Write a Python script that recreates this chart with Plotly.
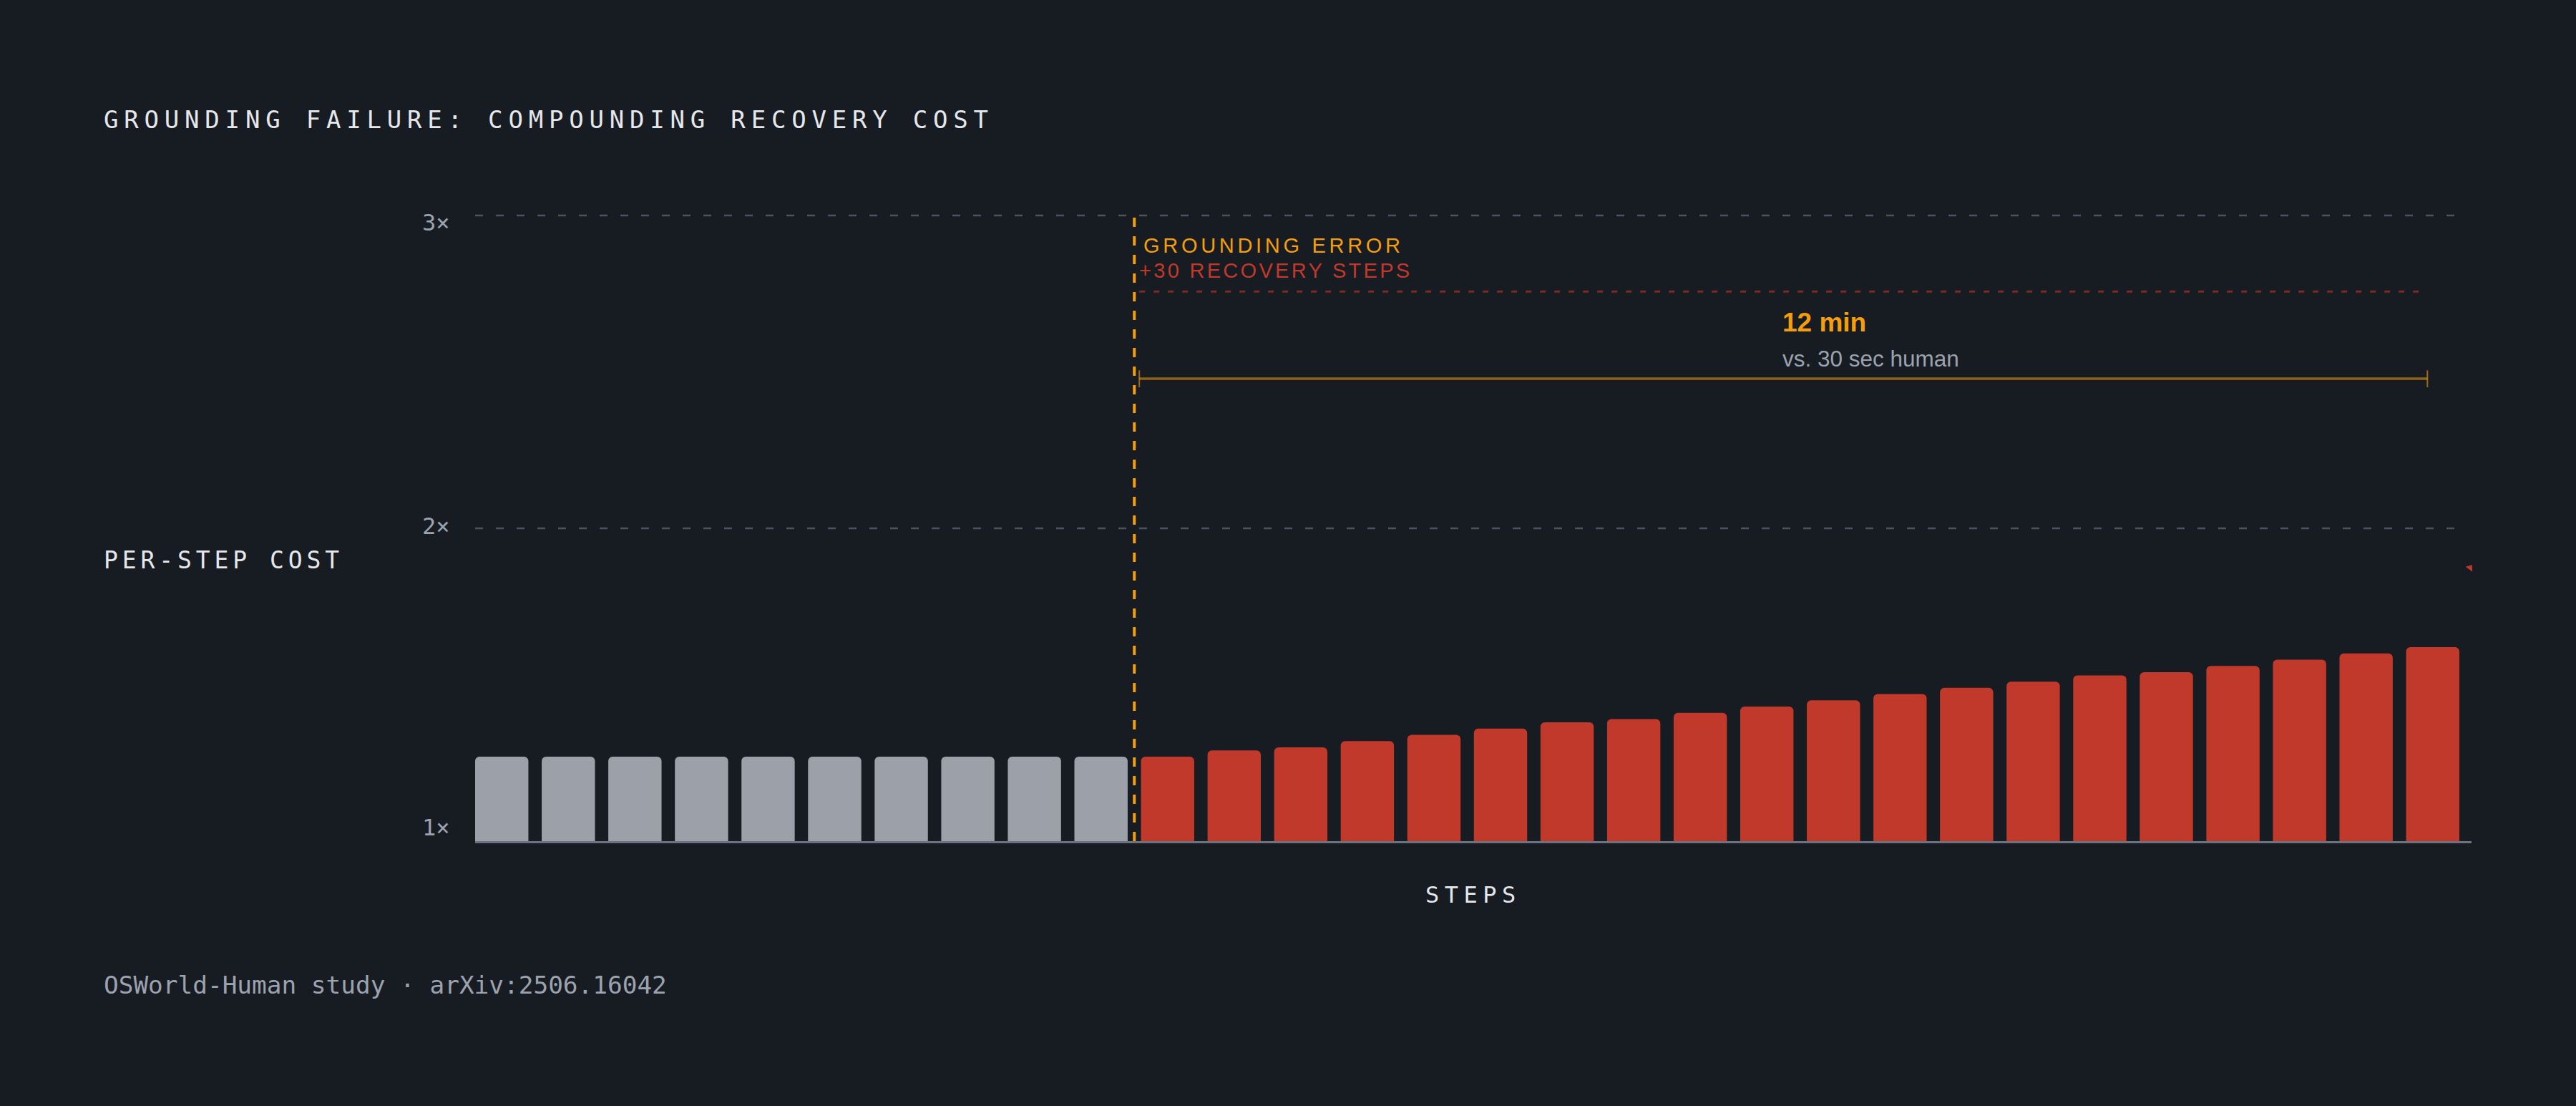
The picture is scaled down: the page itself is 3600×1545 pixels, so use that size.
import plotly.graph_objects as go

# --- data ---
normal_steps = [0, 1, 2, 3, 4, 5, 6, 7, 8, 9]
normal_cost = [1.27, 1.27, 1.27, 1.27, 1.27, 1.27, 1.27, 1.27, 1.27, 1.27]

recovery_steps = [10, 11, 12, 13, 14, 15, 16, 17, 18, 19,
                  20, 21, 22, 23, 24, 25, 26, 27, 28, 29]
recovery_cost = [1.27, 1.29, 1.30, 1.32, 1.34, 1.36, 1.38, 1.39, 1.41, 1.43,
                 1.45, 1.47, 1.49, 1.51, 1.53, 1.54, 1.56, 1.58, 1.60, 1.62]

tick_values = [1, 2, 3]
tick_labels = ["1×", "2×", "3×"]
tick_label_shift = [19, 3, -10]

error_step = 9.5          # boundary between normal and recovery steps
bracket_start = 9.575
bracket_end = 28.92
recovery_level = 2.757    # dotted red level line
bracket_level = 2.478
marker_x = [29.56]
marker_y = [1.874]

# --- styling ---
BG = "#171b22"
GRAY_BAR = "#9ca0a8"
RED = "#c0392b"
ORANGE = "#f59e0b"
TEXT = "#e5e7eb"
MUTED = "#9ca3af"
GRID = "#4b5260"
MONO = "DejaVu Sans Mono, Liberation Mono, monospace"
SANS = "Liberation Sans, Arial, sans-serif"

W, H = 3600, 1545
ML, MR, MT, MB = 664, 146, 279, 370
PLOT_W = W - ML - MR
PLOT_H = H - MT - MB
X_RANGE = [-0.4, 29.583]


def px_x(px):
    return (px - ML) / PLOT_W


def px_y(py):
    return (H - MB - py) / PLOT_H


def spaced(text, gap):
    return f'<span style="letter-spacing:{gap}px">{text}</span>'


fig = go.Figure()

fig.add_trace(go.Bar(
    x=normal_steps, y=normal_cost, width=0.8,
    marker=dict(color=GRAY_BAR, cornerradius=6, line_width=0),
    hoverinfo="skip"
))
fig.add_trace(go.Bar(
    x=recovery_steps, y=recovery_cost, width=0.8,
    marker=dict(color=RED, cornerradius=6, line_width=0),
    hoverinfo="skip"
))
fig.add_trace(go.Scatter(
    x=marker_x, y=marker_y, mode="markers",
    marker=dict(symbol="triangle-up", size=10, angle=35, color=RED),
    cliponaxis=False, hoverinfo="skip"
))

# grid lines at 2x and 3x, across the bar band only
for v in tick_values[1:]:
    fig.add_shape(type="line", xref="x", yref="y",
                  x0=normal_steps[0] - 0.4, x1=recovery_steps[-1] + 0.4,
                  y0=v, y1=v,
                  line=dict(color=GRID, width=2.5, dash="11px,18px"),
                  layer="below")

# grounding error marker
fig.add_shape(type="line", xref="x", yref="y",
              x0=error_step, x1=error_step, y0=1, y1=3,
              line=dict(color=ORANGE, width=4, dash="13px,13px"))

# recovery level (dotted)
fig.add_shape(type="line", xref="x", yref="y",
              x0=bracket_start, x1=bracket_end,
              y0=recovery_level, y1=recovery_level,
              line=dict(color="rgba(192,57,43,0.6)", width=3, dash="8px,12px"))

# time bracket
fig.add_shape(type="line", xref="x", yref="y",
              x0=bracket_start, x1=bracket_end,
              y0=bracket_level, y1=bracket_level,
              line=dict(color="rgba(245,158,11,0.55)", width=3.5))
for bx in [bracket_start, bracket_end]:
    fig.add_shape(type="line", xref="x", yref="y",
                  x0=bx, x1=bx, y0=bracket_level - 0.027, y1=bracket_level + 0.027,
                  line=dict(color="rgba(245,158,11,0.6)", width=2))

annotations = []

for v, lab, sh in zip(tick_values, tick_labels, tick_label_shift):
    annotations.append(dict(
        xref="paper", yref="y", x=0, y=v, xanchor="right", yanchor="middle",
        xshift=-33, yshift=sh, text=lab, showarrow=False,
        font=dict(family=MONO, size=32, color=MUTED)
    ))

annotations += [
    dict(xref="paper", yref="paper", x=px_x(143), y=px_y(782),
         xanchor="left", yanchor="middle", showarrow=False,
         text=spaced("PER-STEP COST", 5.9),
         font=dict(family=MONO, size=33, color=TEXT)),
    dict(xref="paper", yref="paper", x=0.5, y=px_y(1250),
         xanchor="center", yanchor="middle", showarrow=False,
         text=spaced("STEPS", 7.5),
         font=dict(family=MONO, size=32, color=TEXT)),
    dict(xref="paper", yref="paper", x=px_x(143), y=px_y(1376),
         xanchor="left", yanchor="middle", showarrow=False,
         text="OSWorld-Human study · arXiv:2506.16042",
         font=dict(family=MONO, size=34.4, color=MUTED)),
    dict(xref="x", yref="y", x=error_step, y=2.904, xshift=11,
         xanchor="left", yanchor="middle", showarrow=False,
         text=spaced("GROUNDING ERROR", 4.7),
         font=dict(family=SANS, size=29, color=ORANGE)),
    dict(xref="x", yref="y", x=error_step, y=2.824, xshift=5,
         xanchor="left", yanchor="middle", showarrow=False,
         text=spaced("+30 RECOVERY STEPS", 3.3),
         font=dict(family=SANS, size=29, color=RED)),
    dict(xref="x", yref="y", x=(error_step + bracket_end) / 2, y=2.657,
         xanchor="left", yanchor="middle", showarrow=False,
         text="<b>12 min</b>",
         font=dict(family=SANS, size=37, color=ORANGE)),
    dict(xref="x", yref="y", x=(error_step + bracket_end) / 2, y=2.542,
         xanchor="left", yanchor="middle", showarrow=False,
         text="vs. 30 sec human",
         font=dict(family=SANS, size=31.5, color=MUTED)),
]

fig.update_layout(
    width=W, height=H,
    margin=dict(l=ML, r=MR, t=MT, b=MB),
    paper_bgcolor=BG, plot_bgcolor=BG,
    showlegend=False,
    title=dict(
        text=spaced("GROUNDING FAILURE: COMPOUNDING RECOVERY COST", 7.8),
        x=145 / W, xanchor="left", xref="container",
        y=1 - 167 / H, yanchor="middle", yref="container",
        font=dict(family=MONO, size=34, color=TEXT)
    ),
    xaxis=dict(
        range=X_RANGE, showgrid=False, zeroline=False,
        showticklabels=False, ticks="",
        showline=True, linecolor="#6b7280", linewidth=3
    ),
    yaxis=dict(
        range=[1, 1 + PLOT_H / 437], showgrid=False, zeroline=False,
        showticklabels=False, ticks="", showline=False
    ),
    annotations=annotations,
)

# page body has a default 8px margin; drop it so the figure fills the window
fig.write_html(
    "out.html",
    config={"displayModeBar": False},
    post_script="document.body.style.margin = '0'; document.body.style.background = '#171b22';"
)
